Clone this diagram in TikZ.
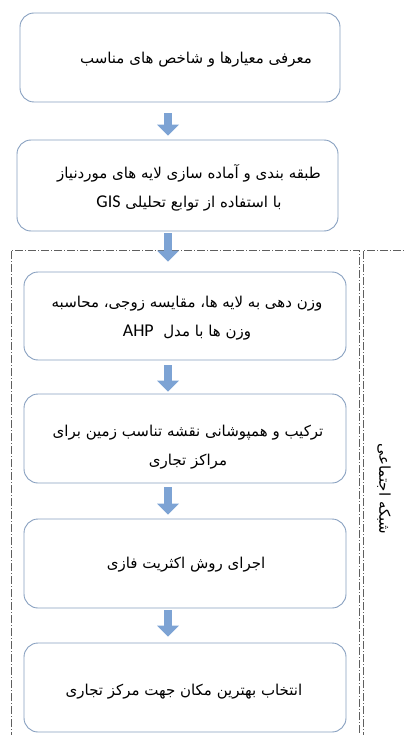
\documentclass[tikz,border=0pt]{standalone}
\usepackage{fontspec}
\usetikzlibrary{arrows.meta}
\TeXXeTstate=1
\newfontfamily\arabicfont[Script=Arabic]{DejaVu Sans}
\newfontfamily\latfont{Carlito}
\definecolor{boxline}{RGB}{135,160,192}
\definecolor{arrowfill}{RGB}{125,163,212}
\definecolor{framegray}{RGB}{95,95,95}
\newcommand{\lat}[1]{\beginL{\latfont\fontsize{18}{29}\selectfont #1}\endL}
\begin{document}
\begin{tikzpicture}[x=1pt,y=-1pt,
  stepbox/.style={draw=boxline, fill=white, line width=0.9pt, rounded corners=14pt, inner sep=0pt, minimum height=89pt},
  txt/.style={font=\arabicfont\fontsize{15}{29}\selectfont, align=center, inner sep=0pt, text=black},
  flow/.style={arrowfill, line width=8.5pt, -{Triangle[width=22pt,length=11pt,line width=0pt]}},
  frameline/.style={framegray, line width=0.6pt, dash pattern=on 8pt off 2pt on 1pt off 2pt}]
\useasboundingbox (0,0) rectangle (404,735);
% frames
\draw[frameline] (11,740) -- (11,250) -- (359,250) -- (359,740);
\draw[frameline] (363,740) -- (363,250) -- (410,250);
% boxes
\node[stepbox, minimum width=320pt] (b1) at (180,57.5) {};
\node[stepbox, minimum width=321pt, minimum height=91pt] (b2) at (177.5,185.5) {};
\node[stepbox, minimum width=322pt, minimum height=88pt] (b3) at (185,316) {};
\node[stepbox, minimum width=322pt] (b4) at (185,438.5) {};
\node[stepbox, minimum width=322pt] (b5) at (185,563.5) {};
\node[stepbox, minimum width=322pt] (b6) at (185,687.5) {};
% texts
\node[txt] (t1) at (196,60) {\beginR معرفی معیارها و شاخص های مناسب\endR};
\node[txt] (t2) at (189,187.5) {\beginR طبقه بندی و آماده سازی لایه های موردنیاز\endR\\\beginR با استفاده از توابع تحلیلی \lat{GIS}\endR};
\node[txt] (t3) at (187,318) {\beginR وزن دهی به لایه ها، مقایسه زوجی، محاسبه\endR\\\beginR وزن ها با مدل \ \lat{AHP}\endR};
\node[txt] (t4) at (188,447) {\beginR ترکیب و همپوشانی نقشه تناسب زمین برای\endR\\\beginR مراکز تجاری\endR};
\node[txt] (t5) at (186,565) {\beginR اجرای روش اکثریت فازی\endR};
\node[txt] (t6) at (184,692) {\beginR انتخاب بهترین مکان جهت مرکز تجاری\endR};
\node[txt, rotate=-90] (lbl) at (384,489) {\beginR شبکه اجتماعی\endR};
% arrows
\coordinate (ax) at (168,0);
\draw[flow, shorten <=11pt, shorten >=4pt] (b1.south -| ax) -- (b2.north -| ax);
\draw[flow, shorten <=2pt, shorten >=10pt] (b2.south -| ax) -- (b3.north -| ax);
\draw[flow, shorten <=5pt, shorten >=2pt] (b3.south -| ax) -- (b4.north -| ax);
\draw[flow, shorten <=4pt, shorten >=4pt] (b4.south -| ax) -- (b5.north -| ax);
\draw[flow, shorten <=2pt, shorten >=6pt] (b5.south -| ax) -- (b6.north -| ax);
\end{tikzpicture}
\end{document}
